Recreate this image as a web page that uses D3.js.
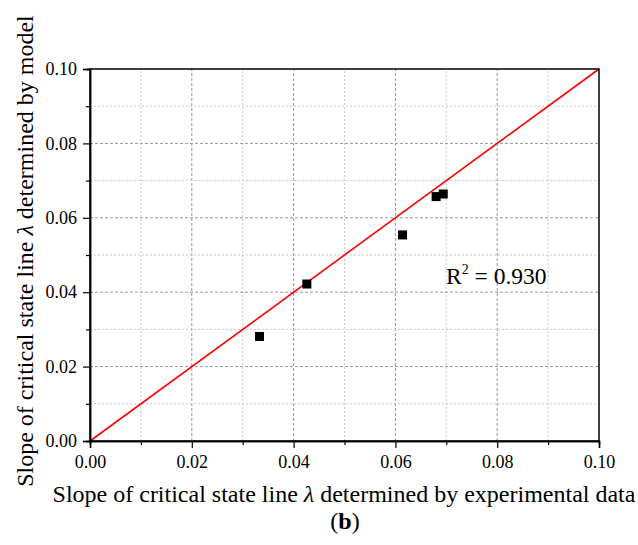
<!DOCTYPE html>
<html><head><meta charset="utf-8">
<script src="https://cdn.jsdelivr.net/npm/d3@7"></script>
<style>body{margin:0;background:#fff}svg{display:block}text{font-family:"Liberation Serif","Times New Roman",serif}</style>
</head><body>
<script>
const expData = [0.0333, 0.0426, 0.0614, 0.0680, 0.0694];
const modelData = [0.0281, 0.0422, 0.0554, 0.0657, 0.0664];
const majorTicks = [0, 0.02, 0.04, 0.06, 0.08, 0.10];
const minorTicks = [0.01, 0.03, 0.05, 0.07, 0.09];
const gridTicks = [0.01,0.02,0.03,0.04,0.05,0.06,0.07,0.08,0.09];
const r2Label = "0.930";

const W=638,H=545;
const svg=d3.select("body").append("svg").attr("width",W).attr("height",H);
const x=d3.scaleLinear().domain([0,0.1]).range([90,599]);
const y=d3.scaleLinear().domain([0,0.1]).range([441,69]);
const isMajor=d=>Math.round(d*100)%2===0;

// grid
svg.append("g").selectAll("line").data(gridTicks).join("line")
 .attr("x1",d=>x(d)).attr("x2",d=>x(d)).attr("y1",y(0)).attr("y2",y(0.1))
 .attr("stroke",d=>isMajor(d)?"#999":"#c8c8c8").attr("stroke-width",1)
 .attr("stroke-dasharray",d=>isMajor(d)?"3,2":"2,2");
svg.append("g").selectAll("line").data(gridTicks).join("line")
 .attr("y1",d=>y(d)).attr("y2",d=>y(d)).attr("x1",x(0)).attr("x2",x(0.1))
 .attr("stroke",d=>isMajor(d)?"#999":"#c8c8c8").attr("stroke-width",1)
 .attr("stroke-dasharray",d=>isMajor(d)?"3,2":"2,2");

// 1:1 line
svg.append("line").attr("x1",x(0)).attr("y1",y(0)).attr("x2",x(0.1)).attr("y2",y(0.1))
 .attr("stroke","#ff0000").attr("stroke-width",1.6);

// frame
svg.append("rect").attr("x",x(0)).attr("y",y(0.1)).attr("width",x(0.1)-x(0)).attr("height",y(0)-y(0.1))
 .attr("fill","none").attr("stroke","#000").attr("stroke-width",1.5);

// axes
const fmt=d3.format(".2f");
const xAx=svg.append("g").attr("transform",`translate(0,${y(0)})`)
 .call(d3.axisBottom(x).tickValues(majorTicks).tickFormat(fmt).tickSize(7).tickPadding(7));
const xMin=svg.append("g").attr("transform",`translate(0,${y(0)})`)
 .call(d3.axisBottom(x).tickValues(minorTicks).tickFormat("").tickSize(4));
const yAx=svg.append("g").attr("transform",`translate(${x(0)},0)`)
 .call(d3.axisLeft(y).tickValues(majorTicks).tickFormat(fmt).tickSize(7).tickPadding(6));
const yMin=svg.append("g").attr("transform",`translate(${x(0)},0)`)
 .call(d3.axisLeft(y).tickValues(minorTicks).tickFormat("").tickSize(4));
[xAx,xMin,yAx,yMin].forEach(g=>{
 g.attr("font-family","Liberation Serif, serif").attr("font-size",18);
 g.select(".domain").attr("stroke","#000").attr("stroke-width",1.5);
 g.selectAll(".tick line").attr("stroke","#000").attr("stroke-width",1.2);
 g.selectAll("text").attr("font-size",18).attr("fill","#000");});

// points
const s=9;
svg.append("g").selectAll("rect").data(expData).join("rect")
 .attr("x",(d,i)=>x(d)-s/2).attr("y",(d,i)=>y(modelData[i])-s/2).attr("width",s).attr("height",s).attr("fill","#000");

// R2
const rt=svg.append("text").attr("x",446).attr("y",284).attr("font-size",23.5);
rt.append("tspan").text("R");
rt.append("tspan").attr("font-size",14).attr("dy",-10).text("2");
rt.append("tspan").attr("dy",10).text(" = "+r2Label);

// axis titles
const xt=svg.append("text").attr("x",344).attr("y",502).attr("text-anchor","middle").attr("font-size",24);
xt.append("tspan").text("Slope of critical state line ");
xt.append("tspan").attr("font-style","italic").text("λ");
xt.append("tspan").text(" determined by experimental data");

const yt=svg.append("text").attr("transform","translate(33,251) rotate(-90)").attr("text-anchor","middle").attr("font-size",24);
yt.append("tspan").text("Slope of critical state line ");
yt.append("tspan").attr("font-style","italic").text("λ");
yt.append("tspan").text(" determined by model");

const bt=svg.append("text").attr("x",345).attr("y",529).attr("text-anchor","middle").attr("font-size",24);
bt.append("tspan").text("(");
bt.append("tspan").attr("font-weight","bold").text("b");
bt.append("tspan").text(")");
</script>
</body></html>
